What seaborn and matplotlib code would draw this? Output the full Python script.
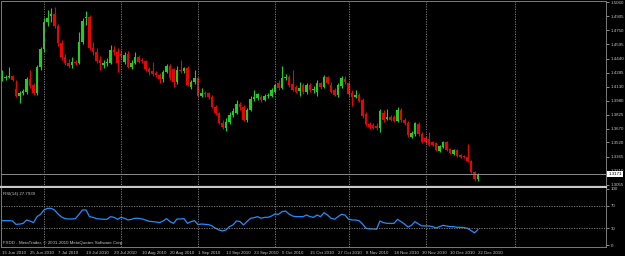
import numpy as np
import pandas as pd
import matplotlib
matplotlib.use("Agg")
import matplotlib.pyplot as plt
import seaborn as sns

# Daily bars 15 Jun 2010 - 22 Dec 2010 (weekdays, as MetaTrader shows them)
dates = pd.bdate_range("2010-06-15", "2010-12-22")

open_ = [1.4205, 1.4227, 1.4238, 1.4249, 1.4107, 1.4030, 1.4063, 1.4074, 1.4216, 1.4150,
         1.4063, 1.4348, 1.4545, 1.4841, 1.4907, 1.4929, 1.4797, 1.4611, 1.4457, 1.4391,
         1.4370, 1.4402, 1.4391, 1.4622, 1.4885, 1.4896, 1.4556, 1.4512, 1.4424, 1.4370,
         1.4391, 1.4391, 1.4534, 1.4512, 1.4490, 1.4402, 1.4490, 1.4348, 1.4391, 1.4457,
         1.4424, 1.4413, 1.4326, 1.4304, 1.4282, 1.4260, 1.4216, 1.4293, 1.4359, 1.4326,
         1.4183, 1.4315, 1.4304, 1.4337, 1.4128, 1.4183, 1.4227, 1.4030, 1.4063, 1.4063,
         1.4019, 1.3909, 1.3844, 1.3734, 1.3679, 1.3745, 1.3822, 1.3844, 1.3942, 1.3909,
         1.3767, 1.3876, 1.3997, 1.4008, 1.4019, 1.3986, 1.4030, 1.4030, 1.4074, 1.4172,
         1.4118, 1.4227, 1.4238, 1.4161, 1.4128, 1.4085, 1.4150, 1.4074, 1.4150, 1.4096,
         1.4074, 1.4172, 1.4128, 1.4238, 1.4150, 1.4096, 1.4041, 1.4139, 1.4216, 1.4172,
         1.4063, 1.4019, 1.4041, 1.3986, 1.3833, 1.3723, 1.3712, 1.3701, 1.3679, 1.3844,
         1.3778, 1.3800, 1.3800, 1.3756, 1.3876, 1.3767, 1.3734, 1.3580, 1.3613, 1.3723,
         1.3613, 1.3570, 1.3559, 1.3526, 1.3515, 1.3427, 1.3471, 1.3526, 1.3449, 1.3394,
         1.3438, 1.3383, 1.3372, 1.3361, 1.3317, 1.3197, 1.3120]

high = [1.4315, 1.4260, 1.4348, 1.4260, 1.4205, 1.4085, 1.4107, 1.4238, 1.4315, 1.4172,
        1.4370, 1.4567, 1.4885, 1.4972, 1.4994, 1.5005, 1.4819, 1.4644, 1.4490, 1.4435,
        1.4457, 1.4424, 1.4731, 1.4885, 1.4961, 1.4918, 1.4622, 1.4556, 1.4468, 1.4424,
        1.4446, 1.4589, 1.4578, 1.4556, 1.4534, 1.4512, 1.4523, 1.4424, 1.4512, 1.4479,
        1.4446, 1.4424, 1.4348, 1.4402, 1.4304, 1.4282, 1.4315, 1.4381, 1.4381, 1.4337,
        1.4359, 1.4424, 1.4348, 1.4359, 1.4205, 1.4315, 1.4238, 1.4118, 1.4085, 1.4074,
        1.4041, 1.3931, 1.3855, 1.3767, 1.3789, 1.3855, 1.3898, 1.3986, 1.3964, 1.3931,
        1.3898, 1.4030, 1.4096, 1.4063, 1.4041, 1.4052, 1.4063, 1.4118, 1.4161, 1.4205,
        1.4359, 1.4271, 1.4260, 1.4315, 1.4150, 1.4183, 1.4172, 1.4172, 1.4172, 1.4139,
        1.4205, 1.4183, 1.4260, 1.4249, 1.4183, 1.4118, 1.4172, 1.4249, 1.4249, 1.4183,
        1.4096, 1.4096, 1.4063, 1.4008, 1.3855, 1.3745, 1.3734, 1.3734, 1.3887, 1.3876,
        1.3887, 1.3822, 1.3822, 1.3909, 1.3898, 1.3789, 1.3756, 1.3646, 1.3745, 1.3745,
        1.3635, 1.3591, 1.3635, 1.3537, 1.3526, 1.3493, 1.3537, 1.3537, 1.3460, 1.3449,
        1.3449, 1.3394, 1.3383, 1.3504, 1.3328, 1.3208, 1.3186]

low = [1.4194, 1.4205, 1.4227, 1.4194, 1.4019, 1.3953, 1.4041, 1.4052, 1.4118, 1.4041,
       1.4041, 1.4315, 1.4512, 1.4797, 1.4841, 1.4775, 1.4578, 1.4424, 1.4370, 1.4337,
       1.4337, 1.4370, 1.4381, 1.4600, 1.4808, 1.4534, 1.4479, 1.4391, 1.4315, 1.4337,
       1.4359, 1.4381, 1.4479, 1.4293, 1.4446, 1.4381, 1.4337, 1.4326, 1.4381, 1.4391,
       1.4391, 1.4304, 1.4260, 1.4249, 1.4238, 1.4172, 1.4183, 1.4282, 1.4205, 1.4128,
       1.4161, 1.4282, 1.4282, 1.4139, 1.4107, 1.4161, 1.4019, 1.4019, 1.4019, 1.3997,
       1.3898, 1.3822, 1.3723, 1.3668, 1.3646, 1.3723, 1.3800, 1.3833, 1.3876, 1.3756,
       1.3745, 1.3866, 1.3975, 1.3986, 1.3964, 1.3975, 1.4008, 1.4019, 1.4063, 1.4096,
       1.4107, 1.4205, 1.4128, 1.4085, 1.4063, 1.4030, 1.4052, 1.4052, 1.4074, 1.4063,
       1.4030, 1.4107, 1.4118, 1.4161, 1.4063, 1.4030, 1.4019, 1.4118, 1.4161, 1.4030,
       1.3920, 1.4008, 1.3964, 1.3789, 1.3701, 1.3668, 1.3668, 1.3657, 1.3635, 1.3745,
       1.3767, 1.3756, 1.3745, 1.3745, 1.3745, 1.3712, 1.3580, 1.3570, 1.3591, 1.3591,
       1.3515, 1.3515, 1.3482, 1.3482, 1.3427, 1.3416, 1.3460, 1.3427, 1.3394, 1.3383,
       1.3361, 1.3350, 1.3350, 1.3306, 1.3186, 1.3098, 1.3098]

close = [1.4238, 1.4238, 1.4249, 1.4205, 1.4030, 1.4063, 1.4085, 1.4216, 1.4139, 1.4063,
         1.4348, 1.4545, 1.4841, 1.4885, 1.4929, 1.4797, 1.4611, 1.4457, 1.4391, 1.4359,
         1.4402, 1.4391, 1.4622, 1.4852, 1.4896, 1.4556, 1.4512, 1.4413, 1.4391, 1.4391,
         1.4402, 1.4534, 1.4512, 1.4391, 1.4468, 1.4479, 1.4348, 1.4391, 1.4457, 1.4402,
         1.4413, 1.4326, 1.4293, 1.4271, 1.4260, 1.4216, 1.4293, 1.4359, 1.4227, 1.4183,
         1.4315, 1.4304, 1.4337, 1.4150, 1.4183, 1.4227, 1.4030, 1.4063, 1.4052, 1.4019,
         1.3909, 1.3844, 1.3734, 1.3690, 1.3745, 1.3822, 1.3866, 1.3942, 1.3909, 1.3767,
         1.3876, 1.3997, 1.4019, 1.4052, 1.3986, 1.4030, 1.4041, 1.4096, 1.4150, 1.4118,
         1.4227, 1.4238, 1.4150, 1.4096, 1.4074, 1.4118, 1.4074, 1.4150, 1.4096, 1.4107,
         1.4172, 1.4128, 1.4238, 1.4172, 1.4074, 1.4041, 1.4150, 1.4227, 1.4183, 1.4052,
         1.4019, 1.4041, 1.3975, 1.3811, 1.3723, 1.3690, 1.3679, 1.3679, 1.3866, 1.3767,
         1.3800, 1.3767, 1.3756, 1.3876, 1.3767, 1.3734, 1.3602, 1.3624, 1.3734, 1.3613,
         1.3526, 1.3526, 1.3493, 1.3493, 1.3438, 1.3482, 1.3526, 1.3438, 1.3405, 1.3438,
         1.3372, 1.3361, 1.3361, 1.3317, 1.3197, 1.3120, 1.3171]

rsi = [43.5, 43.5, 43.5, 43.0, 37.0, 37.5, 38.5, 44.7, 42.9, 40.0,
       50.6, 54.7, 62.4, 65.3, 65.3, 62.4, 55.3, 50.0, 47.1, 46.5,
       46.5, 47.1, 54.7, 62.4, 62.4, 50.6, 49.4, 47.1, 46.5, 45.9,
       45.9, 50.6, 49.4, 45.9, 49.4, 47.7, 44.7, 45.9, 47.7, 47.7,
       46.5, 44.7, 42.4, 41.8, 41.2, 40.0, 42.9, 47.1, 41.8, 38.8,
       46.5, 46.5, 47.1, 38.8, 41.8, 43.5, 36.5, 37.6, 37.0, 36.5,
       34.2, 30.1, 27.1, 25.4, 27.1, 33.0, 36.0, 43.0, 42.0, 36.0,
       42.0, 47.7, 48.8, 50.6, 47.7, 49.4, 49.4, 51.7, 55.3, 54.7,
       59.4, 60.6, 55.3, 51.7, 50.6, 50.6, 50.6, 53.5, 50.6, 49.4,
       53.5, 50.6, 57.6, 53.5, 47.7, 45.9, 50.6, 54.7, 53.5, 45.9,
       44.7, 44.7, 43.5, 37.6, 30.0, 28.9, 28.9, 28.3, 42.9, 40.0,
       38.8, 38.8, 38.8, 45.9, 41.8, 37.6, 32.3, 35.3, 41.8, 37.6,
       34.2, 34.2, 34.2, 33.0, 30.6, 33.0, 35.3, 34.2, 33.0, 33.0,
       31.8, 31.8, 31.2, 30.0, 25.9, 22.0, 27.8]

price_ticks = [1.5060, 1.4905, 1.4750, 1.4595, 1.4440, 1.4285, 1.4130,
               1.3980, 1.3825, 1.3670, 1.3520, 1.3365, 1.3210, 1.3055]
rsi_ticks = [100, 70, 30, 0]
rsi_levels = [70, 30]
grid_bars = [12, 34, 56, 78, 99, 121, 146.6]   # month separators

UP, DOWN = "#1ad21a", "#f00000"
FG = "#c4c4c4"
GRID = "#8a8a8a"

df = pd.DataFrame({"date": dates, "open": open_, "high": high,
                   "low": low, "close": close, "rsi": rsi})
df["x"] = np.arange(len(df))

sns.set_theme(style="dark", rc={"axes.facecolor": "black",
                                "figure.facecolor": "black"})
plt.rcParams["font.family"] = ["Liberation Sans", "DejaVu Sans"]

W, H = 625, 256
fig = plt.figure(figsize=(W / 100, H / 100), dpi=100)
ax = fig.add_axes([1 / W, 1 - 187 / H, 605 / W, 186 / H])
ax2 = fig.add_axes([1 / W, 1 - 247 / H, 605 / W, 59 / H])

# candles
up = df["close"] >= df["open"]
cols = np.where(up, UP, DOWN)
ax.vlines(df["x"], df["low"], df["high"], colors=cols, linewidth=0.8)
body_lo = df[["open", "close"]].min(axis=1)
body_h = (df["close"] - df["open"]).abs().clip(lower=0.0008)
ax.bar(df["x"], body_h, bottom=body_lo, width=0.62, color=cols, linewidth=0)

# bid line and price box
last = df["close"].iloc[-1]
ax.axhline(last, color="#8c8c8c", linewidth=0.7)
ax.annotate(f"{last:.4f}", xy=(1.0, last), xycoords=("axes fraction", "data"),
            xytext=(1.6, 0), textcoords="offset points", va="center", ha="left",
            fontsize=3.2, color="black", annotation_clip=False,
            bbox=dict(boxstyle="square,pad=0.25", fc="white", ec="white", lw=0))

# RSI
sns.lineplot(data=df, x="x", y="rsi", ax=ax2, color="#1e8fff", linewidth=0.9)
for lv in rsi_levels:
    ax2.axhline(lv, color=GRID, linewidth=0.6, linestyle=(0, (1.5, 1.5)))

for a in (ax, ax2):
    for g in grid_bars:
        a.axvline(g, color=GRID, linewidth=0.6, linestyle=(0, (1.5, 1.5)))
    a.set_facecolor("black")
    a.set_xlim(-0.29, 172.57)
    a.yaxis.tick_right()
    a.set_xlabel("")
    a.set_ylabel("")
    a.grid(False)
    a.tick_params(axis="y", direction="out", length=2, width=0.5,
                  colors=FG, labelsize=3.2, pad=1.2)
    for s in a.spines.values():
        s.set_color("#7a7a7a")
        s.set_linewidth(0.7)

ax.set_ylim(1.3032, 1.5071)
ax.set_yticks(price_ticks, [f"{t:.4f}" for t in price_ticks])
ax.tick_params(axis="x", bottom=False, labelbottom=False)
ax.spines["bottom"].set_color("#c8c8c8")
ax.spines["bottom"].set_linewidth(1.6)

ax2.set_ylim(-3, 101.2)
ax2.set_yticks(rsi_ticks, [str(t) for t in rsi_ticks])
ax2.spines["top"].set_visible(False)
pos = df["x"].iloc[::8]
labs = [f"{d.day} {d.strftime('%b %Y')}" for d in df["date"].iloc[::8]]
ax2.set_xticks(pos, labs, ha="left")
ax2.tick_params(axis="x", direction="out", length=2, width=0.5,
                colors=FG, labelsize=3.2, pad=1.0)

ax2.text(0.004, 0.90, "RSI(14) 27.7939", transform=ax2.transAxes,
         fontsize=3.2, color=FG, va="center", ha="left")
ax2.text(0.003, 0.06, "FXDD - MetaTrader, \u00a9 2001-2010 MetaQuotes Software Corp.",
         transform=ax2.transAxes, fontsize=3.2, color=FG, va="center", ha="left")

fig.savefig("out.png", dpi=100, facecolor="black")
